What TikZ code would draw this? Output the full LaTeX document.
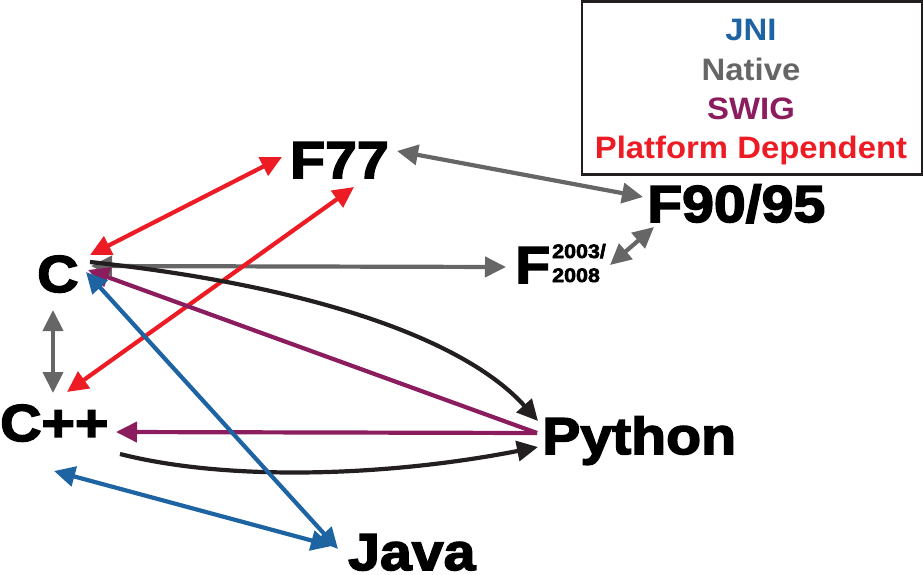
\documentclass[tikz,border=0pt]{standalone}
\usepackage{fontspec}
\setmainfont{Liberation Sans}
\newfontfamily\heavy{Liberation Sans Bold}[FakeBold=3,FakeStretch=1.1]
\newfontfamily\legfont{Liberation Sans Bold}[FakeStretch=1.06]
\usetikzlibrary{arrows.meta}
\definecolor{jniblue}{RGB}{31,100,162}
\definecolor{natgray}{RGB}{102,102,102}
\definecolor{swigpurple}{RGB}{139,28,94}
\definecolor{platred}{RGB}{237,28,36}
\definecolor{curveblack}{RGB}{35,31,32}
\tikzset{
  lab/.style={inner sep=0pt, anchor=base west, font=\heavy\fontsize{52}{56}\selectfont},
  suplab/.style={inner sep=0pt, anchor=base west, font=\heavy\fontsize{19.5}{22}\selectfont},
  legtext/.style={inner sep=0pt, anchor=base, font=\legfont\fontsize{31}{34}\selectfont},
  tip/.tip={Triangle[length=21pt,width=20pt]},
  conn/.style={line width=4.2pt},
  oneway/.style={conn, -tip},
  twoway/.style={conn, tip-tip},
}
\begin{document}
\begin{tikzpicture}[x=1pt,y=-1pt]
\useasboundingbox (0,0) rectangle (924,575);
% labels
\node[lab] (C) at (37,292) {C};
\node[lab] (Cpp) at (0,441) {C++};
\node[lab] (F77) at (290,178) {F77};
\node[lab] (F90) at (647,222) {F90/95};
\node[lab] (F03) at (515,283) {F};
\node[suplab] (s1) at (552,258) {2003/};
\node[suplab] (s2) at (552,282) {2008};
\node[lab] (Py) at (542,454) {Python};
\node[lab] (Java) at (348,570) {Java};
% legend
\node[draw=curveblack, line width=2.8pt, minimum width=340pt, minimum height=173pt, inner sep=0pt] (legend) at (752,88) {};
\node[legtext, text=jniblue] (l1) at (751,41) {JNI};
\node[legtext, text=natgray] (l2) at (751,81) {Native};
\node[legtext, text=swigpurple] (l3) at (751,120) {SWIG};
\node[legtext, text=platred] (l4) at (751,159) {Platform Dependent};
% connector end points
\coordinate (C-red) at (90,255);
\coordinate (C-black) at (90,262);
\coordinate (C-gray) at (91,266);
\coordinate (C-purple) at (88,270);
\coordinate (C-blue) at (86,272);
\coordinate (C-down) at (53,310);
\coordinate (Cpp-up) at (53,393);
\coordinate (Cpp-red) at (67,392);
\coordinate (Cpp-purple) at (116,432);
\coordinate (Cpp-black) at (120,454);
\coordinate (Cpp-blue) at (54,471);
\coordinate (F77-left) at (282,157);
\coordinate (F77-low) at (354,187);
\coordinate (F77-right) at (397,151);
\coordinate (F90-left) at (643,197);
\coordinate (F90-low) at (654,227);
\coordinate (F03-right) at (610,265);
\coordinate (F03-left) at (506,267);
\coordinate (Py-top) at (538,421);
\coordinate (Py-mid) at (537,433);
\coordinate (Py-low) at (538,447);
\coordinate (Java-c) at (338,549);
\coordinate (Java-cpp) at (332,546);
% native (gray)
\draw[twoway, natgray] (C-gray) -- (F03-left);
\draw[twoway, natgray] (F77-right) -- (F90-left);
\draw[twoway, natgray] (F90-low) -- (F03-right);
\draw[twoway, natgray] (C-down) -- (Cpp-up);
% platform dependent (red)
\draw[twoway, platred] (C-red) -- (F77-left);
\draw[twoway, platred] (Cpp-red) -- (F77-low);
% black curves
\draw[oneway, curveblack] (C-black) .. controls (330,288) and (470,345) .. (Py-top);
\draw[oneway, curveblack] (Cpp-black) .. controls (230,482) and (390,476) .. (Py-low);
% swig (purple)
\draw[oneway, swigpurple] (Py-mid) -- (C-purple);
\draw[oneway, swigpurple] (Py-mid) -- (Cpp-purple);
% jni (blue)
\draw[twoway, jniblue] (C-blue) -- (Java-c);
\draw[twoway, jniblue] (Cpp-blue) -- (Java-cpp);
\end{tikzpicture}
\end{document}
